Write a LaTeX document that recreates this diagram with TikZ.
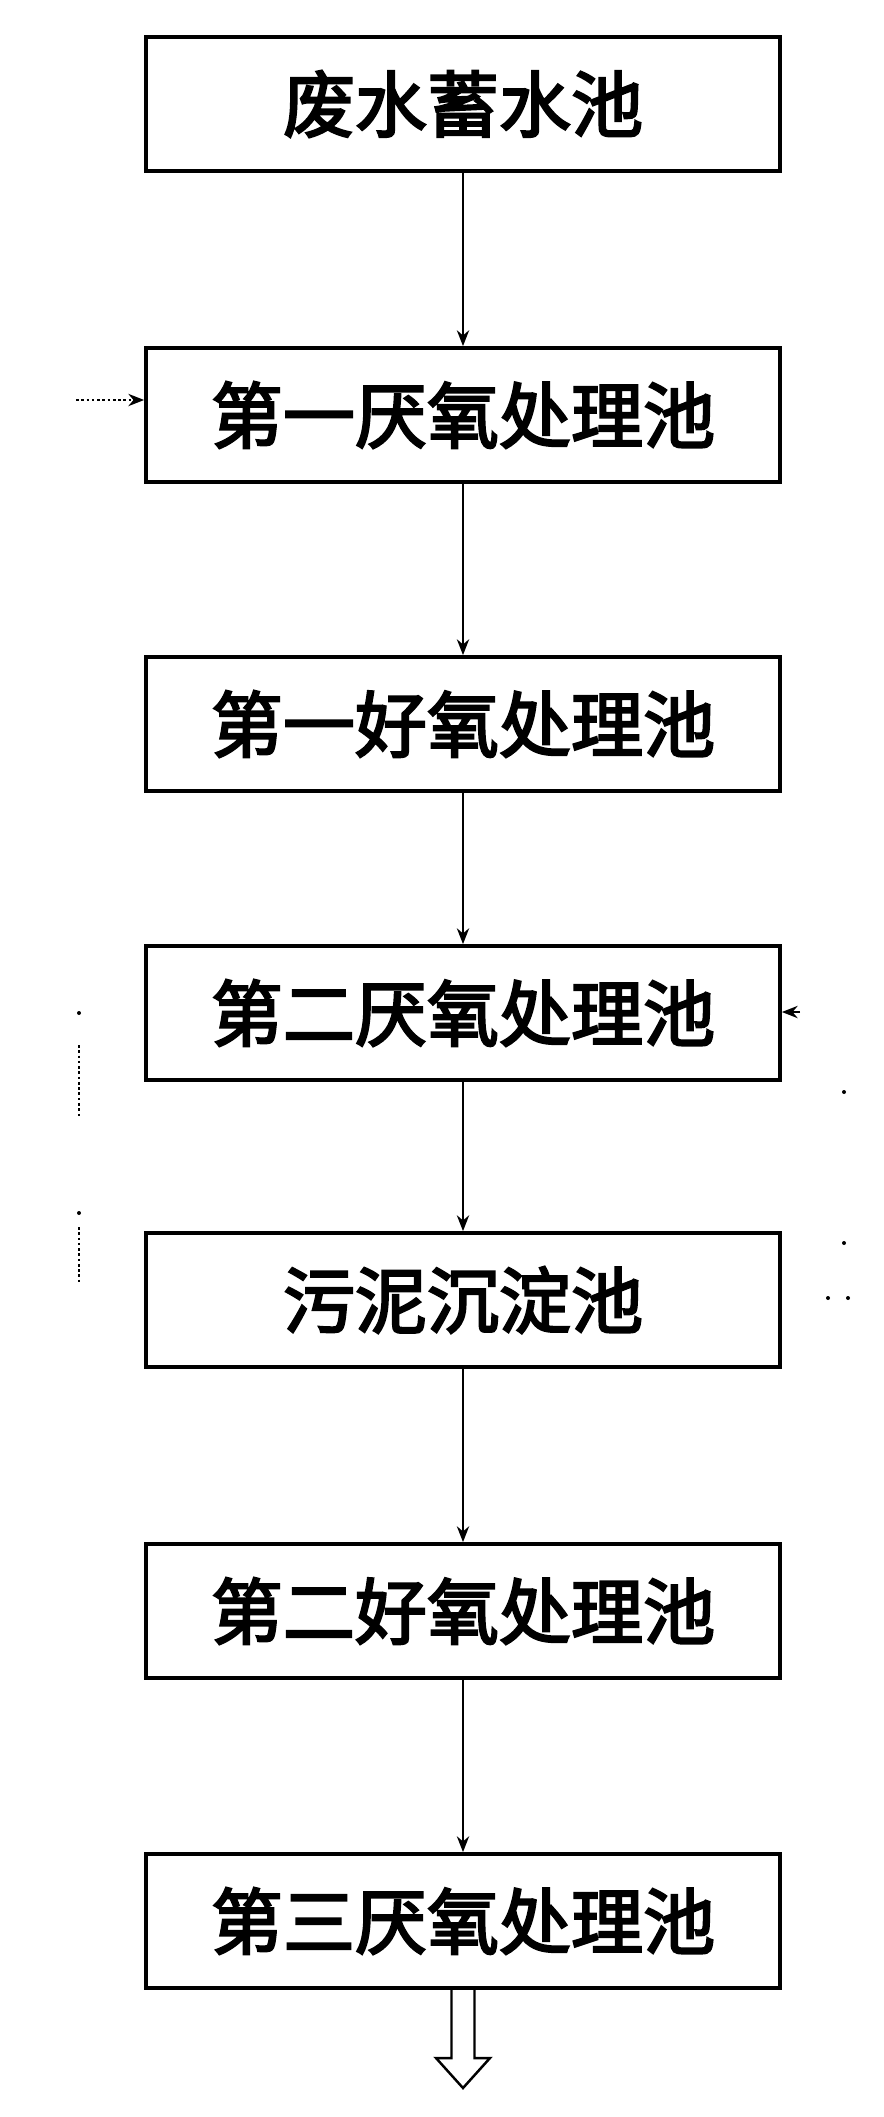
\documentclass[tikz,border=0pt]{standalone}
\usepackage{fontspec}
\newfontfamily\cjk[FakeBold=3]{Noto Sans CJK SC}
\usetikzlibrary{arrows.meta}
\begin{document}
\begin{tikzpicture}[x=0.02cm,y=-0.02cm,
	pool/.style={draw,line width=2.2pt,minimum width=12.68cm,minimum height=2.68cm,inner sep=0pt,font=\cjk\fontsize{41}{41}\selectfont},
	arrow/.style={-{Stealth[length=9pt,width=7pt]},line width=1.1pt},
	faded/.style={line width=1.1pt,dash pattern=on 1.5pt off 1.5pt}]
	\useasboundingbox (0,0) rectangle (884,2117);
	\foreach \nhan/\vtri/\chu in {p1/104/废水蓄水池,p2/415/第一厌氧处理池,p3/724/第一好氧处理池,p4/1013/第二厌氧处理池,p5/1300/污泥沉淀池,p6/1611/第二好氧处理池,p7/1921/第三厌氧处理池}
	\node[pool] (\nhan) at (463,\vtri) {\chu};
	\foreach \a/\b in {p1/p2,p2/p3,p3/p4,p4/p5,p5/p6,p6/p7}
	\draw[arrow] (\a)--(\b);
	% outlet
	\draw[line width=1.4pt] (451.5,1988)--(451.5,2058)--(436,2058)--(463,2088)--(490,2058)--(474.5,2058)--(474.5,1988);
	% faded return lines
	\coordinate (in2) at (76,400);
	\coordinate (in4) at (800,1012);
	\draw[arrow,faded] (in2)--(in2 -| p2.west);
	\draw[arrow] (in4)--(in4 -| p4.east);
	\draw[faded] (79,1045)--(79,1118) (79,1227)--(79,1283);
	\foreach \px/\py in {79/1013,79/1213,844/1092,844/1243,828/1298,848/1298}
	\fill (\px,\py) circle (0.04cm);
\end{tikzpicture}
\end{document}
